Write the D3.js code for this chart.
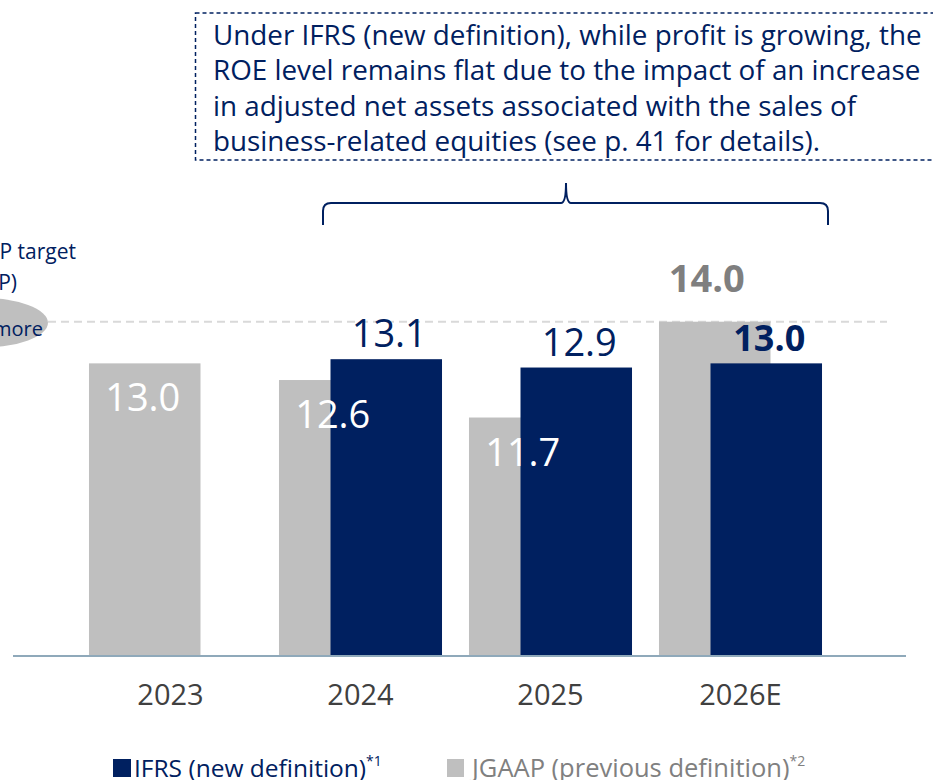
<!DOCTYPE html>
<html>
<head>
<meta charset="utf-8">
<script src="https://cdn.jsdelivr.net/npm/d3@7"></script>
<style>
  html, body { margin: 0; padding: 0; background: #fff; }
  svg { display: block; font-family: "Open Sans", "Noto Sans", sans-serif; }
</style>
</head>
<body>
<div id="chart"></div>
<script>
// -------- Data --------
const years     = ['2023', '2024', '2025', '2026E'];
const jgaapVals = [13.0, 12.6, 11.7, 14.0];     // previous definition
const ifrsVals  = [null, 13.1, 12.9, 13.0];     // new definition
const targetVal = 14.0;                          // MTBP target
const noteLines = [
  'Under IFRS (new definition), while profit is growing, the',
  'ROE level remains flat due to the impact of an increase',
  'in adjusted net assets associated with the sales of',
  'business-related equities (see p. 41 for details).'
];

const NAVY = '#002060', GREY = '#bfbfbf';

// -------- Canvas --------
const width = 933, height = 780;
const svg = d3.select('#chart').append('svg')
  .attr('width', width).attr('height', height);

// -------- Scales --------
const x = d3.scaleBand()
  .domain(years)
  .range([75.5, 835.5])
  .paddingInner(0.142)
  .paddingOuter(0.071);

// axis is truncated: bars start at 6%
const y = d3.scaleLinear()
  .domain([6, 14])
  .range([655, 321.7]);

const barW  = x.bandwidth() * 0.684;
const shift = x.bandwidth() - barW;   // IFRS bar overlaps JGAAP bar

const rows = years.map((yr, i) => ({ yr, jg: jgaapVals[i], ifrs: ifrsVals[i], last: i === years.length - 1 }));

// -------- Target line + bubble (cut off on the left, as in the slide) --------
svg.append('line')
  .attr('x1', 48).attr('x2', 887)
  .attr('y1', y(targetVal)).attr('y2', y(targetVal))
  .attr('stroke', '#d9d9d9').attr('stroke-width', 2)
  .attr('stroke-dasharray', '8,5');

svg.append('ellipse')
  .attr('cx', -20).attr('cy', y(targetVal) + 1)
  .attr('rx', 68).attr('ry', 25)
  .attr('fill', GREY);

svg.append('text')
  .attr('x', 43).attr('y', y(targetVal) + 14)
  .attr('text-anchor', 'end').attr('font-size', 20).attr('fill', NAVY)
  .text('14% or more');

svg.append('text')
  .attr('x', 76).attr('y', 259)
  .attr('text-anchor', 'end').attr('font-size', 21).attr('fill', NAVY)
  .text('MTBP target');
svg.append('text')
  .attr('x', 17).attr('y', 290)
  .attr('text-anchor', 'end').attr('font-size', 21).attr('fill', NAVY)
  .text('(JGAAP)');

// -------- Bars --------
const g = svg.append('g');

g.selectAll('rect.jg')
  .data(rows)
  .join('rect')
    .attr('class', 'jg')
    .attr('x', d => x(d.yr))
    .attr('y', d => y(d.jg))
    .attr('width', barW)
    .attr('height', d => y(6) - y(d.jg))
    .attr('fill', GREY);

g.selectAll('rect.ifrs')
  .data(rows.filter(d => d.ifrs != null))
  .join('rect')
    .attr('class', 'ifrs')
    .attr('x', d => x(d.yr) + shift)
    .attr('y', d => y(d.ifrs))
    .attr('width', barW)
    .attr('height', d => y(6) - y(d.ifrs))
    .attr('fill', NAVY);

// -------- Value labels --------
// JGAAP: white inside the bar, except the forecast which sits above in bold grey
g.selectAll('text.jg')
  .data(rows)
  .join('text')
    .attr('class', 'jg')
    .attr('text-anchor', 'middle')
    .attr('x', d => x(d.yr) + barW / 2 - (d.last ? 8 : 2))
    .attr('y', d => d.last ? y(d.jg) - 30 : y(d.jg) + 48)
    .attr('font-size', 38)
    .attr('font-weight', d => d.last ? 700 : 400)
    .attr('fill', d => d.last ? '#7f7f7f' : '#fff')
    .text(d => d.jg.toFixed(1));

g.selectAll('text.ifrs')
  .data(rows.filter(d => d.ifrs != null))
  .join('text')
    .attr('class', 'ifrs')
    .attr('text-anchor', 'middle')
    .attr('x', d => x(d.yr) + shift + barW / 2 + 3)
    .attr('y', d => y(d.ifrs) - 12)
    .attr('font-size', d => d.last ? 36 : 38)
    .attr('font-weight', d => d.last ? 700 : 400)
    .attr('fill', NAVY)
    .text(d => d.ifrs.toFixed(1));

// -------- Axis --------
const xAxis = svg.append('g')
  .attr('transform', `translate(0,${y(6) + 1})`)
  .call(d3.axisBottom(x).tickSize(0).tickPadding(28));
xAxis.select('.domain')
  .attr('d', 'M13,0H906')
  .attr('stroke', '#8fa9ba').attr('stroke-width', 2);
xAxis.selectAll('.tick text')
  .attr('font-family', '"Open Sans", sans-serif')
  .attr('font-size', 29).attr('fill', '#404040');

// -------- Annotation box and brace --------
svg.append('rect')
  .attr('x', 195.5).attr('y', 13)
  .attr('width', 760).attr('height', 147)
  .attr('fill', 'none').attr('stroke', NAVY)
  .attr('stroke-width', 1.5).attr('stroke-dasharray', '4,3');

const note = svg.append('text')
  .attr('font-size', 27.8).attr('fill', NAVY);
note.selectAll('tspan')
  .data(noteLines)
  .join('tspan')
    .attr('x', 213)
    .attr('y', (d, i) => 45 + i * 35.3)
    .text(d => d);

const bx0 = 323, bx1 = 828, bxm = 566, by = 203, r = 8;
svg.append('path')
  .attr('d', `M${bx0},225 V${by + r} Q${bx0},${by} ${bx0 + r},${by} H${bxm - 5}
              Q${bxm},${by} ${bxm},${by - 20} Q${bxm},${by} ${bxm + 5},${by}
              H${bx1 - r} Q${bx1},${by} ${bx1},${by + r} V225`)
  .attr('fill', 'none').attr('stroke', NAVY).attr('stroke-width', 2);

// -------- Legend --------
const legend = svg.append('g');
legend.append('rect').attr('x', 113).attr('y', 759).attr('width', 18).attr('height', 18).attr('fill', NAVY);
const l1 = legend.append('text').attr('x', 134).attr('y', 777).attr('font-size', 24.5).attr('fill', NAVY);
l1.append('tspan').text('IFRS (new definition)');
l1.append('tspan').attr('dy', -11).attr('font-size', 14).text('*1');

legend.append('rect').attr('x', 447).attr('y', 759).attr('width', 17).attr('height', 18).attr('fill', GREY);
const l2 = legend.append('text').attr('x', 472).attr('y', 777).attr('font-size', 25.5).attr('fill', '#808080');
l2.append('tspan').text('JGAAP (previous definition)');
l2.append('tspan').attr('dy', -11).attr('font-size', 14).text('*2');
</script>
</body>
</html>
